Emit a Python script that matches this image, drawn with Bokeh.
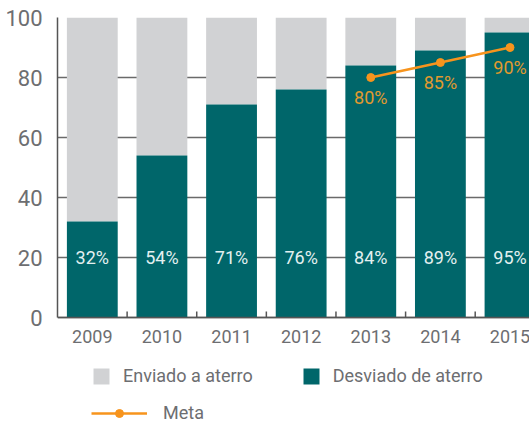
import math
from bokeh.plotting import figure
from bokeh.models import (ColumnDataSource, Range1d, FixedTicker, Legend, LegendItem, Span)
from bokeh.core.properties import value
from bokeh.embed import file_html
from bokeh.resources import INLINE

years = ["2009", "2010", "2011", "2012", "2013", "2014", "2015"]
desviado = [32, 54, 71, 76, 84, 89, 95]
enviado = [100 - d for d in desviado]
meta_years = ["2013", "2014", "2015"]
meta = [80, 85, 90]
y_ticks = [0, 20, 40, 60, 80, 100]

FONT = "Roboto"
TEAL = "#00666a"
GREY = "#d1d2d4"
ORANGE = "#f7941d"
TXT = "#6d6e71"
AX = "#555555"

xs = list(range(len(years)))
src = ColumnDataSource(dict(x=xs, d=desviado, e=enviado,
                            top=[100] * len(xs), zero=[0] * len(xs),
                            lab=[f"{v}%" for v in desviado], yr=years,
                            ly=[20] * len(xs)))
bsrc = ColumnDataSource(dict(x=[i + 0.5 for i in xs[:-1]], y=[0] * (len(xs) - 1)))
mx = [years.index(y) for y in meta_years]
msrc = ColumnDataSource(dict(x=mx, y=meta, lab=[f"{v}%" for v in meta],
                             ly=[v - 6.7 for v in meta]))

# frame spans from the 100 line down to the bottom; 3 px per unit
p = figure(width=529, height=423, output_backend="svg", toolbar_location=None,
           x_axis_location=None,
           x_range=Range1d(-0.5, 6.28), y_range=Range1d(-106 / 3, 100),
           min_border_left=57, min_border_top=17, min_border_right=0, min_border_bottom=0)
p.outline_line_color = None
p.xgrid.visible = False
p.ygrid.grid_line_color = "#6a6a6a"
p.ygrid.grid_line_width = 1.6
p.ygrid.ticker = FixedTicker(ticks=y_ticks)
for g in p.grid:
    if g.dimension == 0:
        g.visible = False

bw = 0.73
r_e = p.vbar(x="x", bottom="d", top="top", width=bw, source=src, fill_color=GREY, line_color=None)
r_d = p.vbar(x="x", top="d", bottom=0, width=bw, source=src, fill_color=TEAL, line_color=None)
p.add_layout(Span(location=0, dimension="width", line_color=AX, line_width=1.5))
# category boundary ticks pointing up from the axis
p.ray(x="x", y="y", source=bsrc, length=6, length_units="screen", angle=math.pi / 2,
      line_color=AX, line_width=1.5)
p.text(x="x", y="ly", text="lab", source=src, text_align="center", text_baseline="middle",
       text_font=value(FONT), text_font_size="18px", text_color="#e3f0f0")
p.text(x="x", y="zero", text="yr", source=src, text_align="center", text_baseline="top",
       y_offset=12, text_font=value(FONT), text_font_size="18px", text_color=TXT)
r_m = p.line(x="x", y="y", source=msrc, line_color=ORANGE, line_width=2.5)
r_mc = p.scatter(x="x", y="y", source=msrc, size=8, fill_color=ORANGE, line_color=ORANGE)
p.text(x="x", y="ly", text="lab", source=msrc, text_align="center", text_baseline="middle",
       text_font=value(FONT), text_font_size="18px", text_color="#e09a2e")

# y axis
p.yaxis.ticker = FixedTicker(ticks=y_ticks)
p.yaxis.bounds = (0, 100)
p.yaxis.major_tick_line_color = None
p.yaxis.minor_tick_line_color = None
p.yaxis.axis_line_color = AX
p.yaxis.axis_line_width = 1.5
p.yaxis.major_label_text_font = FONT
p.yaxis.major_label_text_font_size = "22px"
p.yaxis.major_label_text_color = TXT
p.yaxis.major_label_standoff = 9

def style(leg):
    leg.label_text_font = FONT
    leg.label_text_font_size = "18px"
    leg.label_text_color = TXT
    leg.border_line_color = None
    leg.background_fill_alpha = 0
    leg.padding = 0
    leg.margin = 0
    leg.label_standoff = 12
    leg.label_height = 20

leg1 = Legend(items=[LegendItem(label="Enviado a aterro", renderers=[r_e]),
                     LegendItem(label="Desviado de aterro", renderers=[r_d])],
              orientation="horizontal", glyph_width=20, glyph_height=20, spacing=48,
              location=(34, 37))
style(leg1)
leg2 = Legend(items=[LegendItem(label="Meta", renderers=[r_m, r_mc])],
              orientation="horizontal", glyph_width=56, glyph_height=20,
              location=(34, 0))
style(leg2)
leg2.label_standoff = 16
p.add_layout(leg1)
p.add_layout(leg2)

open("out.html", "w").write(file_html(p, INLINE))
